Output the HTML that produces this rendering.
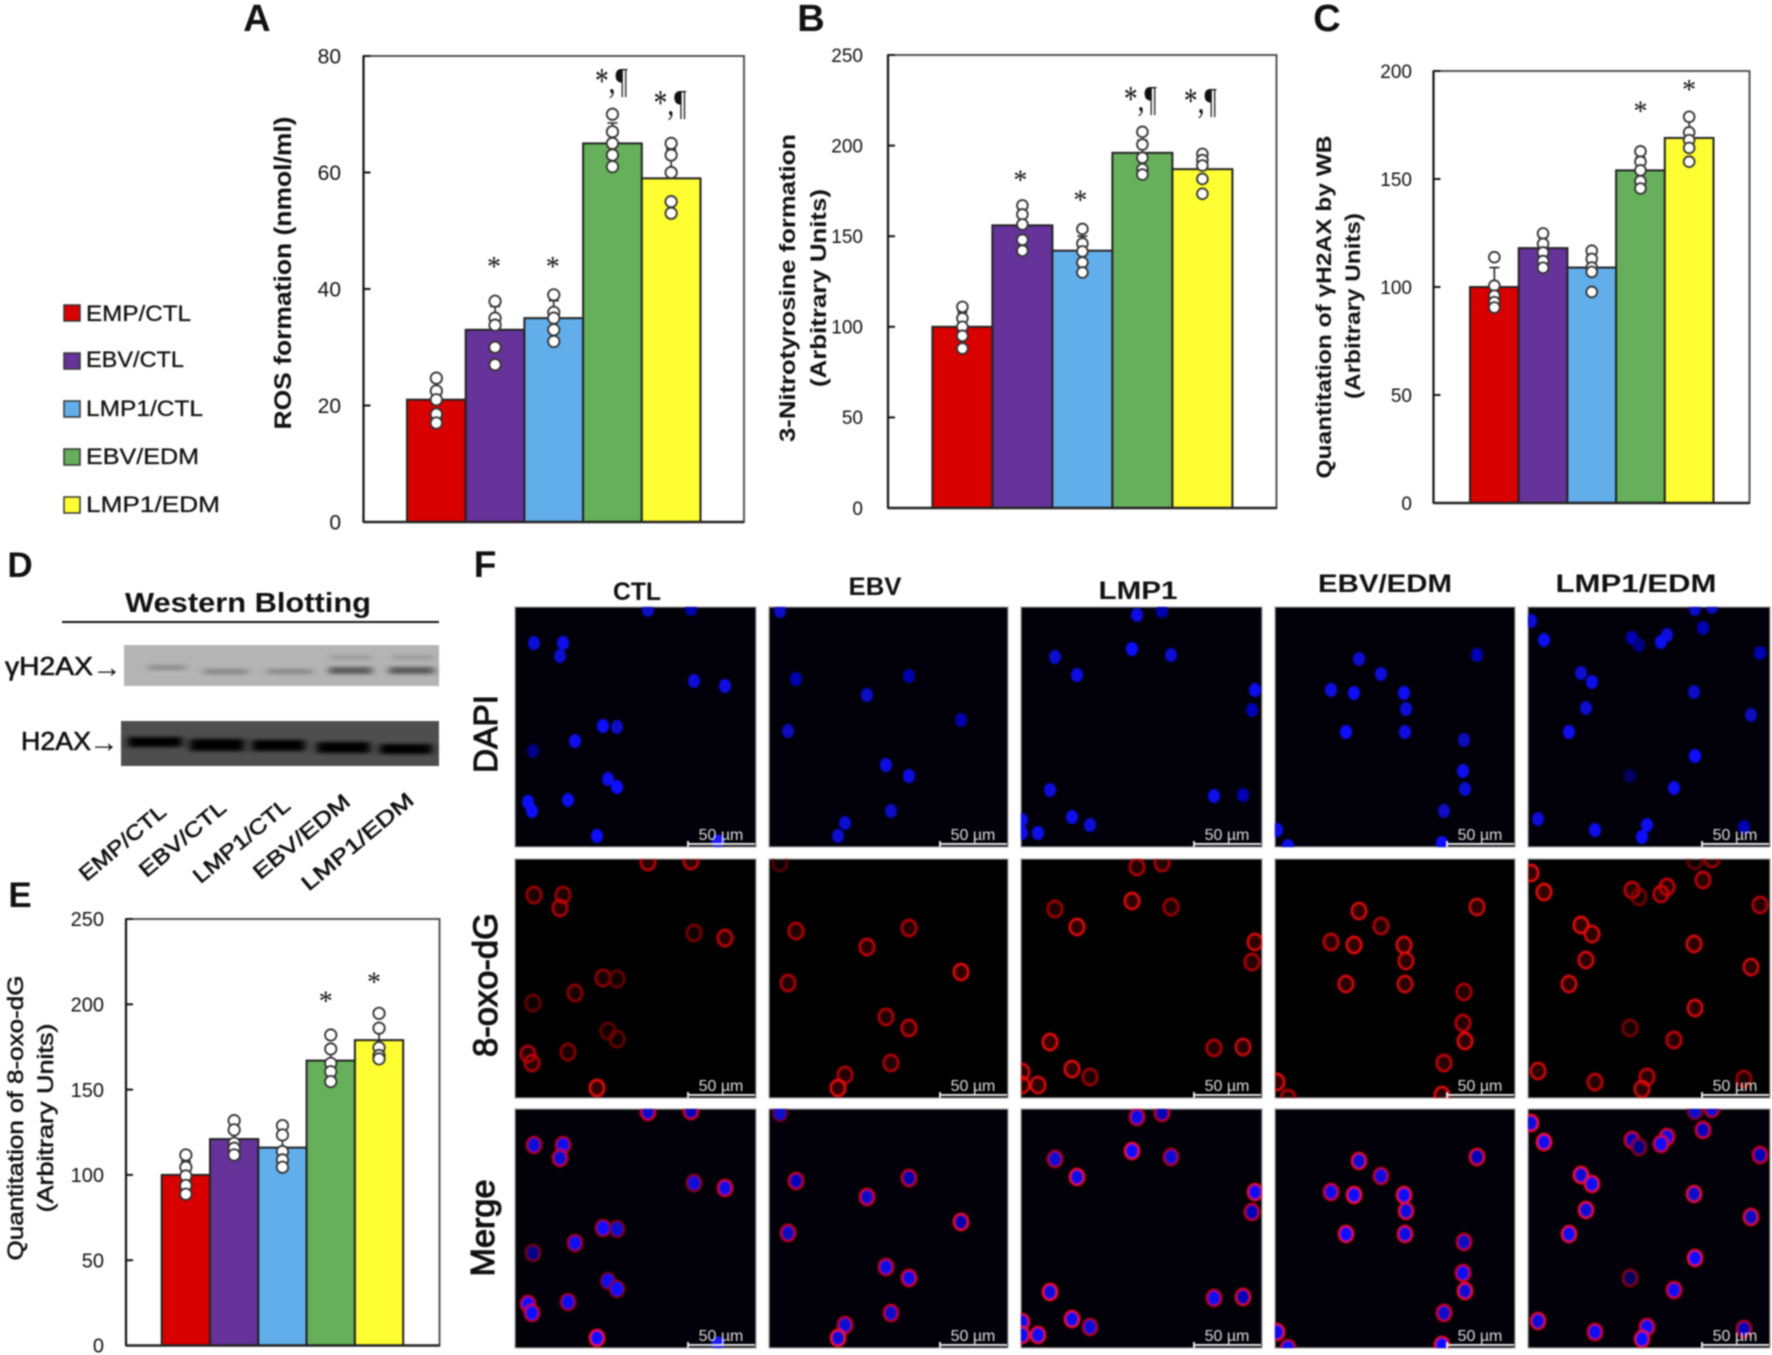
<!DOCTYPE html>
<html lang="en">
<head>
<meta charset="utf-8">
<title>EBV and LMP1 oxidative stress figure</title>
<style>
html,body{margin:0;padding:0;background:#fff;width:1772px;height:1355px;overflow:hidden}
svg{display:block;filter:blur(.7px)}
text{font-family:"Liberation Sans",sans-serif;fill:#111}
.serif{font-family:"Liberation Serif",serif}
</style>
</head>
<body>
<svg id="figure" xmlns="http://www.w3.org/2000/svg" width="1772" height="1355" viewBox="0 0 1772 1355">
  <rect width="1772" height="1355" fill="#fff"/>
  <g font-weight="bold">
    <text x="257" y="31" font-size="38" font-weight="bold" text-anchor="middle">A</text>
    <text x="811" y="31" font-size="38" font-weight="bold" text-anchor="middle">B</text>
    <text x="1327" y="31" font-size="38" font-weight="bold" text-anchor="middle">C</text>
    <text x="20" y="577" font-size="35" font-weight="bold" text-anchor="middle">D</text>
    <text x="20" y="907" font-size="35" font-weight="bold" text-anchor="middle">E</text>
    <text x="485" y="577" font-size="37" font-weight="bold" text-anchor="middle">F</text>
  </g>

  <g stroke="#111" stroke-width=".3">
    <rect x="64" y="305" width="16" height="16" fill="#d90000" stroke="#333" stroke-width="1.5"/>
    <text x="86" y="321" font-size="22" textLength="105" lengthAdjust="spacingAndGlyphs">EMP/CTL</text>
    <rect x="64" y="353" width="16" height="16" fill="#65339a" stroke="#333" stroke-width="1.5"/>
    <text x="86" y="367" font-size="22" textLength="98" lengthAdjust="spacingAndGlyphs">EBV/CTL</text>
    <rect x="64" y="401" width="16" height="16" fill="#62aeeb" stroke="#333" stroke-width="1.5"/>
    <text x="86" y="416" font-size="22" textLength="117" lengthAdjust="spacingAndGlyphs">LMP1/CTL</text>
    <rect x="64" y="449" width="16" height="16" fill="#66b05b" stroke="#333" stroke-width="1.5"/>
    <text x="86" y="464" font-size="22" textLength="113" lengthAdjust="spacingAndGlyphs">EBV/EDM</text>
    <rect x="64" y="497" width="16" height="16" fill="#fffe33" stroke="#333" stroke-width="1.5"/>
    <text x="86" y="512" font-size="22" textLength="134" lengthAdjust="spacingAndGlyphs">LMP1/EDM</text>
  </g>

  <g>
    <text transform="translate(291 273) rotate(-90)" font-size="24" font-weight="bold" text-anchor="middle" textLength="313" lengthAdjust="spacingAndGlyphs">ROS formation (nmol/ml)</text>
    <text transform="translate(795 288) rotate(-90)" font-size="22" font-weight="bold" text-anchor="middle" textLength="308" lengthAdjust="spacingAndGlyphs">3-Nitrotyrosine formation</text>
    <text transform="translate(826 288) rotate(-90)" font-size="22" font-weight="bold" text-anchor="middle" textLength="198" lengthAdjust="spacingAndGlyphs">(Arbitrary Units)</text>
    <text transform="translate(1331 307) rotate(-90)" font-size="21" font-weight="bold" text-anchor="middle" textLength="343" lengthAdjust="spacingAndGlyphs">Quantitation of γH2AX by WB</text>
    <text transform="translate(1360 306) rotate(-90)" font-size="21" font-weight="bold" text-anchor="middle" textLength="186" lengthAdjust="spacingAndGlyphs">(Arbitrary Units)</text>
    <text transform="translate(23 1118) rotate(-90)" font-size="22" stroke="#111" stroke-width=".5" text-anchor="middle" textLength="285" lengthAdjust="spacingAndGlyphs">Quantitation of 8-oxo-dG</text>
    <text transform="translate(53 1118) rotate(-90)" font-size="22" stroke="#111" stroke-width=".5" text-anchor="middle" textLength="189" lengthAdjust="spacingAndGlyphs">(Arbitrary Units)</text>
  </g>

  <g>
    <defs>
      <filter id="bandBlur" x="-30%" y="-150%" width="160%" height="400%"><feGaussianBlur stdDeviation="4 1.9"/></filter>
    </defs>
    <text x="248" y="612" font-size="28" font-weight="bold" text-anchor="middle" textLength="246" lengthAdjust="spacingAndGlyphs">Western Blotting</text>
    <rect x="62" y="621" width="377" height="2" fill="#111"/>
    <text x="5" y="675" font-size="26" textLength="88" lengthAdjust="spacingAndGlyphs" stroke="#111" stroke-width=".6">γH2AX</text>
    <text x="92" y="677" font-size="30" textLength="30" lengthAdjust="spacingAndGlyphs">→</text>
    <text x="21" y="750" font-size="26" textLength="70" lengthAdjust="spacingAndGlyphs" stroke="#111" stroke-width=".6">H2AX</text>
    <text x="89" y="752" font-size="30" textLength="30" lengthAdjust="spacingAndGlyphs">→</text>
    <rect x="124" y="645" width="315" height="41" fill="#b4b4b4"/>
    <g filter="url(#bandBlur)">
      <rect x="148" y="665" width="38" height="5" fill="#8c8c8c"/>
      <rect x="204" y="669" width="44" height="5" fill="#858585"/>
      <rect x="267" y="669" width="46" height="5" fill="#888"/>
      <rect x="329" y="667" width="43" height="7" fill="#5a5a5a"/>
      <rect x="389" y="667" width="45" height="7" fill="#585858"/>
      <rect x="330" y="655" width="42" height="5" fill="#9c9c9c"/>
      <rect x="392" y="655" width="42" height="5" fill="#9c9c9c"/>
    </g>
    <rect x="121" y="721" width="318" height="45" fill="#4e4e4e"/>
    <g filter="url(#bandBlur)">
      <rect x="128" y="737" width="54" height="10" fill="#000"/>
      <rect x="190" y="739" width="54" height="12" fill="#000"/>
      <rect x="252" y="740" width="53" height="11" fill="#000"/>
      <rect x="317" y="742" width="53" height="11" fill="#000"/>
      <rect x="380" y="744" width="52" height="10" fill="#000"/>
    </g>
    <text transform="translate(127 848) rotate(-40)" font-size="21" text-anchor="middle" stroke="#111" stroke-width=".6" textLength="106" lengthAdjust="spacingAndGlyphs">EMP/CTL</text>
    <text transform="translate(187 844) rotate(-40)" font-size="21" text-anchor="middle" stroke="#111" stroke-width=".6" textLength="106" lengthAdjust="spacingAndGlyphs">EBV/CTL</text>
    <text transform="translate(246 846) rotate(-40)" font-size="21" text-anchor="middle" stroke="#111" stroke-width=".6" textLength="119" lengthAdjust="spacingAndGlyphs">LMP1/CTL</text>
    <text transform="translate(306 842) rotate(-40)" font-size="21" text-anchor="middle" stroke="#111" stroke-width=".6" textLength="119" lengthAdjust="spacingAndGlyphs">EBV/EDM</text>
    <text transform="translate(362 847) rotate(-40)" font-size="21" text-anchor="middle" stroke="#111" stroke-width=".6" textLength="139" lengthAdjust="spacingAndGlyphs">LMP1/EDM</text>
  </g>

  <g>
    <text x="637" y="600" font-size="25" font-weight="bold" text-anchor="middle" textLength="48" lengthAdjust="spacingAndGlyphs">CTL</text>
    <text x="875" y="595" font-size="25" font-weight="bold" text-anchor="middle" textLength="53" lengthAdjust="spacingAndGlyphs">EBV</text>
    <text x="1138" y="599" font-size="25" font-weight="bold" text-anchor="middle" textLength="79" lengthAdjust="spacingAndGlyphs">LMP1</text>
    <text x="1385" y="592" font-size="25" font-weight="bold" text-anchor="middle" textLength="134" lengthAdjust="spacingAndGlyphs">EBV/EDM</text>
    <text x="1636" y="592" font-size="25" font-weight="bold" text-anchor="middle" textLength="161" lengthAdjust="spacingAndGlyphs">LMP1/EDM</text>
    <text transform="translate(497 734) rotate(-90)" font-size="33" stroke="#111" stroke-width="1.1" text-anchor="middle" textLength="78" lengthAdjust="spacingAndGlyphs">DAPI</text>
    <text transform="translate(497 985) rotate(-90)" font-size="34" stroke="#111" stroke-width="1.1" text-anchor="middle" textLength="144" lengthAdjust="spacingAndGlyphs">8-oxo-dG</text>
    <text transform="translate(494 1228) rotate(-90)" font-size="33" stroke="#111" stroke-width="1.1" text-anchor="middle" textLength="97" lengthAdjust="spacingAndGlyphs">Merge</text>
  </g>
</svg>

<script>
/* ---------- chart data ---------- */
const groupNames = ['EMP/CTL','EBV/CTL','LMP1/CTL','EBV/EDM','LMP1/EDM'];
const barColors = ['#d90000','#65339a','#62aeeb','#66b05b','#fffe33'];

const rosTicks = [0,20,40,60,80];
const rosMeans = [21,33,35,65,59];
const rosErrors = [3,4,3,3.5,5];
const rosPoints = [[24.7,22.5,21,18.5,17],[37.9,35,33.8,30,27],[39,36,35,33,31],[70,67,65,63,61],[65,63,60,55,53]];
const rosSigLabels = ['','*','*','*,¶','*,¶'];
const rosSigLevels = [0,44.5,44.5,75.8,72];

const nitroTicks = [0,50,100,150,200,250];
const nitroMeans = [100,156,142,196,187];
const nitroErrors = [8,9,8,7,7];
const nitroPoints = [[111,104.7,100,95,88],[167,162,156.5,148,142],[154,146,141.6,135.5,130],[207.6,200.6,193.3,187,184],[195.4,192,189,181.6,173.4]];
const nitroSigLabels = ['','*','*','*,¶','*,¶'];
const nitroSigLevels = [0,183,172,226,225];

const h2axTicks = [0,50,100,150,200];
const h2axMeans = [100,118,109,154,169];
const h2axErrors = [9,5,6,6,8];
const h2axPoints = [[113.8,100.6,96,93,90.5],[124.8,120,116,112,108.9],[116.8,113,109,107,97.7],[162.8,158,154,149,145.6],[178.8,171.6,168,164.4,158]];
const h2axSigLabels = ['','','','*','*'];
const h2axSigLevels = [0,0,0,183,193];

const oxoTicks = [0,50,100,150,200,250];
const oxoMeans = [100,121,116,167,179];
const oxoErrors = [8,7,8,9,9];
const oxoPoints = [[111.7,104.5,99.4,93.8,88.7],[131.8,126.4,118.6,115.6,111.7],[128.9,123.4,113.7,108.8,104.5],[182,173.8,165.4,160.5,154.7],[194.7,186,174.6,170,168]];
const oxoSigLabels = ['','','','*','*'];
const oxoSigLevels = [0,0,0,204,215];

/* ---------- micrograph layout (picture content, not chart data) ---------- */
const micrographColumns = ['ctl','ebv','lmp1','ebv-edm','lmp1-edm'];
const micrographRows = ['dapi','8-oxo-dg','merge'];
const micrographCells = [
  [[19,36,.8,.6],[48,36,.9,.6],[45,49,.75,.7],[179,74,.8,.4],[210,79,.85,.8],[88,119,1,.5],[102,120,.7,.3],[60,134,.9,.5],[18,144,.35,.3],[93,172,.9,.25],[102,180,1,.3],[53,193,.9,.5],[13,195,1,.7],[17,204,1,.7],[82,229,1,1],[133,3,.7,.8],[176,2,.6,.8]],
  [[11,4,.7,.2],[27,72,.6,.7],[140,69,.55,.7],[98,88,.7,.8],[192,113,.55,.95],[19,124,.65,.7],[117,158,.85,.7],[140,169,.85,.8],[122,204,.7,.7],[76,216,.75,.7],[69,229,.75,1]],
  [[116,8,.85,.7],[141,4,.6,.7],[34,50,.75,.6],[56,68,.85,.95],[111,42,1,.95],[150,48,.75,.6],[234,83,.9,.9],[231,103,.6,.7],[29,183,.8,1],[51,210,.9,.95],[69,218,.8,.6],[17,226,.9,.9],[1,213,.9,.9],[1,226,.9,.9],[193,189,.9,.7],[222,188,.6,.85]],
  [[84,52,.75,.9],[106,67,.8,.7],[56,83,.85,.8],[79,86,.95,1],[129,86,.95,.95],[131,102,.8,.85],[71,125,1,.9],[130,125,.85,.85],[202,48,.6,.85],[189,133,.65,.7],[188,164,.9,.75],[190,182,.75,.95],[169,204,.7,.8],[167,236,1,.95],[13,239,.9,.7],[2,223,.9,.95]],
  [[16,33,.9,1],[3,14,.8,1],[53,66,.75,1],[64,75,.9,.9],[58,101,.75,.9],[41,125,.9,.9],[104,31,.6,.8],[111,38,.35,.4],[139,28,.8,.8],[133,35,.9,.8],[175,21,.6,.8],[167,2,.7,.3],[184,0,.7,.6],[232,46,.6,.75],[166,85,.7,.9],[223,108,.65,.85],[167,149,1,.9],[102,169,.15,.4],[146,181,.9,.8],[10,212,.8,.85],[67,223,.9,.8],[119,218,.9,.8],[114,230,1,.85],[216,220,.6,.6]]
];
const strayBlueCells = [[[203,234]],[],[],[],[]];
const columnLefts = [515,769,1021,1275,1528];
const columnWidths = [241,239,241,240,242];
const rowTops = [607,859,1109];
const rowHeights = [240,239,239];

/* ---------- helpers ---------- */
const NS = 'http://www.w3.org/2000/svg';
const figure = document.getElementById('figure');
function make(tag, parent, attrs){
  const el = document.createElementNS(NS, tag);
  for (const k in attrs) el.setAttribute(k, attrs[k]);
  parent.appendChild(el);
  return el;
}
function linearScale(domainMax, bottom, top){
  return function(v){ return bottom - (v / domainMax) * (bottom - top); };
}
function bandScale(start, step){
  return function(i){ return start + i * step; };
}

/* ---------- bar chart ---------- */
function drawChart(cfg){
  const y = linearScale(cfg.ticks[cfg.ticks.length-1], cfg.bottom, cfg.top);
  const x = bandScale(cfg.barStart, cfg.barStep);
  const chart = make('g', figure, {});
  
  

  const frame = make('rect', chart, {x:cfg.left, y:cfg.top, width:cfg.right-cfg.left, height:cfg.bottom-cfg.top, fill:'#fff', stroke:'#555', 'stroke-width':2});
  
  

  const yAxis = make('line', chart, {x1:cfg.left, x2:cfg.left, y1:cfg.top, y2:cfg.bottom, stroke:'#111', 'stroke-width':2.2});
  
  

  cfg.ticks.forEach(function(t){
    const tick = make('line', chart, {x1:cfg.left, x2:cfg.left+7, y1:y(t), y2:y(t), stroke:'#111', 'stroke-width':2});
    
    
    const label = make('text', chart, {x:cfg.labelRight, y:y(t), dy:'.36em', 'font-size':cfg.tickSize, 'text-anchor':'end', fill:'#222'});
    label.textContent = t;
    
    
  });

  cfg.means.forEach(function(m, i){
    const bar = make('rect', chart, {x:x(i), y:y(m), width:cfg.barStep, height:cfg.bottom-y(m), fill:barColors[i], stroke:'#222', 'stroke-width':2});
    
    
  });

  const baseline = make('line', chart, {x1:cfg.left, x2:cfg.right, y1:cfg.bottom, y2:cfg.bottom, stroke:'#222', 'stroke-width':2.4});
  
  

  cfg.means.forEach(function(m, i){
    const cx = x(i) + cfg.barStep/2;
    const err = make('path', chart, {d:'M'+cx+' '+y(m)+'V'+y(m+cfg.errors[i])+'M'+(cx-5)+' '+y(m+cfg.errors[i])+'H'+(cx+5), fill:'none', stroke:'#222', 'stroke-width':1.6});
    
    
    cfg.points[i].forEach(function(p, j){
      const dot = make('circle', chart, {cx:cx, cy:y(p), r:cfg.dotR, fill:'#fff', stroke:'#333', 'stroke-width':1.8});
      
      
    });
    if (cfg.sigLabels[i]){
      const isPlain = cfg.sigLabels[i] === '*';
      const sig = make('text', chart, {x:cx + cfg.sigShift, y:y(cfg.sigLevels[i]) + (isPlain ? 13 : 12), 'font-size':isPlain ? 28 : 36, 'text-anchor':'middle', class:'serif'});
      if (!isPlain) {
        sig.setAttribute('textLength', 33);
        sig.setAttribute('lengthAdjust', 'spacingAndGlyphs');
      }
      sig.textContent = cfg.sigLabels[i];
      
      
    }
  });
}

drawChart({id:'a',left:363.5,right:744,top:56,bottom:522,barStart:407,barStep:58.7,labelRight:341,tickSize:21,dotR:5.7,sigShift:-1,ticks:rosTicks,means:rosMeans,errors:rosErrors,points:rosPoints,sigLabels:rosSigLabels,sigLevels:rosSigLevels});
drawChart({id:'b',left:888,right:1276.5,top:55,bottom:508,barStart:932.4,barStep:60,labelRight:863,tickSize:19,dotR:5.4,sigShift:-2,ticks:nitroTicks,means:nitroMeans,errors:nitroErrors,points:nitroPoints,sigLabels:nitroSigLabels,sigLevels:nitroSigLevels});
drawChart({id:'c',left:1433.5,right:1749.5,top:71,bottom:503,barStart:1470,barStep:48.7,labelRight:1412,tickSize:19,dotR:5.4,sigShift:0,ticks:h2axTicks,means:h2axMeans,errors:h2axErrors,points:h2axPoints,sigLabels:h2axSigLabels,sigLevels:h2axSigLevels});
drawChart({id:'e',left:126,right:439.5,top:919,bottom:1345.5,barStart:161.7,barStep:48.3,labelRight:104,tickSize:20,dotR:5.7,sigShift:-5,ticks:oxoTicks,means:oxoMeans,errors:oxoErrors,points:oxoPoints,sigLabels:oxoSigLabels,sigLevels:oxoSigLevels});

/* ---------- micrographs ---------- */
const defs = make('defs', figure, {});
const cellBlur = make('filter', defs, {id:'cellBlur', x:'-30%', y:'-30%', width:'160%', height:'160%'});
make('feGaussianBlur', cellBlur, {stdDeviation:'.9'});

function blueOf(v){ return 'rgb(' + Math.round(10*v) + ',' + Math.round(10*v) + ',' + Math.round(70 + 185*v) + ')'; }
function redOf(v){ return 'rgb(' + Math.round(60 + 195*v) + ',' + Math.round(8*v) + ',' + Math.round(10*v) + ')'; }

micrographRows.forEach(function(rowName, r){
  micrographColumns.forEach(function(colName, c){
    const px = columnLefts[c], py = rowTops[r], pw = columnWidths[c], ph = rowHeights[r];
    const panel = make('g', figure, {});
    
    
    const clip = make('clipPath', defs, {id:'clip-' + r + '-' + c});
    make('rect', clip, {x:px, y:py, width:pw, height:ph});
    const bg = make('rect', panel, {x:px, y:py, width:pw, height:ph, fill:r === 1 ? '#010000' : '#020109', stroke:'#a8a8a8', 'stroke-width':1.2});
    
    
    const cells = make('g', panel, {'clip-path':'url(#clip-' + r + '-' + c + ')'});
    
    
    const inner = make('g', cells, {filter:'url(#cellBlur)'});
    
    
    micrographCells[c].forEach(function(cell){
      const cx = px + cell[0], cy = py + cell[1], b = cell[2], red = cell[3];
      if (r === 1 || r === 2){
        const ring = make('ellipse', inner, {cx:cx, cy:cy, rx:7.2, ry:8, fill:r === 1 ? 'rgba(160,0,0,' + (0.3*red) + ')' : 'none', stroke:redOf(red), 'stroke-width':2.4});
        
        
      }
      if (r === 0 || r === 2){
        const nucleus = make('ellipse', inner, {cx:cx, cy:cy, rx:6, ry:7, fill:blueOf(b)});
        
        
      }
    });
    if (r !== 1){
      strayBlueCells[c].forEach(function(cell){
        const stray = make('circle', inner, {cx:px + cell[0], cy:py + cell[1], r:6.5, fill:'#1a1aff'});
        
        
      });
    }
    const barLine = make('path', panel, {d:'M'+(px+pw-68)+' '+(py+ph-3)+'H'+(px+pw-1)+'M'+(px+pw-68)+' '+(py+ph-6)+'V'+(py+ph),fill:'none', stroke:'#e6e6e6', 'stroke-width':2});
    
    
    const barText = make('text', panel, {x:px+pw-35, y:py+ph-7, 'font-size':16, 'text-anchor':'middle', style:'fill:#dcdcdc'});
    barText.textContent = '50 µm';
    
    
  });
});
</script>
</body>
</html>
